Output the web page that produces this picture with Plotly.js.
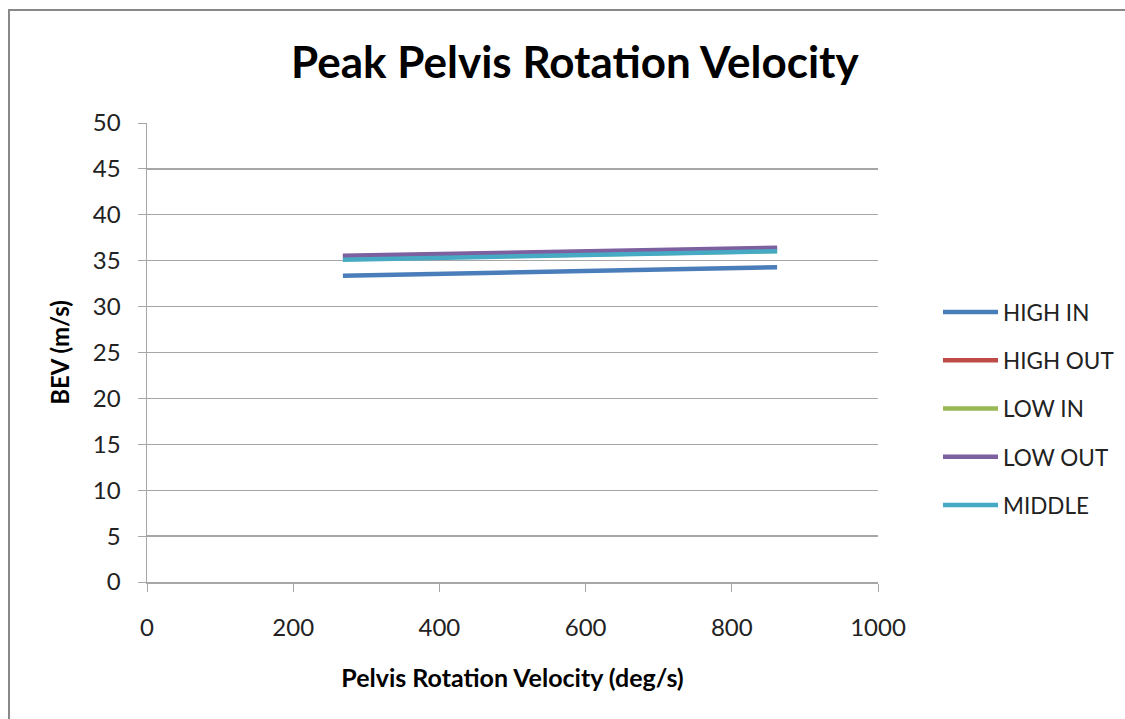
<!DOCTYPE html>
<html>
<head>
<meta charset="utf-8">
<script src="https://cdn.plot.ly/plotly-3.0.1.min.js"></script>
<style>
html,body{margin:0;padding:0;background:#fff;overflow:hidden;}
#chart{width:1125px;height:719px;position:relative;}
#frame{position:absolute;left:8px;top:9px;width:1300px;height:900px;border:2px solid #888;pointer-events:none;}
</style>
</head>
<body>
<div id="chart"></div>
<div id="frame"></div>
<script>
const seriesNames = ["HIGH IN", "HIGH OUT", "LOW IN", "LOW OUT", "MIDDLE"];
const seriesColors = ["#4a7ebb", "#be4b48", "#98b954", "#7d60a0", "#46aac5"];
const xValues = [268, 862];
const highIn = [33.35, 34.28];
const highOut = [35.45, 36.3];
const lowIn = [35.2, 36.05];
const lowOut = [35.55, 36.4];
const middle = [35.1, 36.03];
const yData = [highIn, highOut, lowIn, lowOut, middle];

const traces = seriesNames.map((name, i) => ({
  type: "scatter",
  mode: "lines",
  name: name,
  legendgroup: "g" + i,
  x: xValues,
  y: yData[i],
  line: {color: seriesColors[i], width: 4.5}
}));

const font = "Lato, 'Open Sans', sans-serif";
const plotW = 1125 - 147;          // width between left margin and right edge
const xDomainEnd = 731 / plotW;    // plot area ends at x=878
const layout = {
  width: 1125,
  height: 719,
  paper_bgcolor: "#fff",
  plot_bgcolor: "#fff",
  margin: {l: 147, r: 0, t: 123, b: 137},
  font: {family: font, color: "#222"},
  title: {
    text: "<b>Peak Pelvis Rotation Velocity</b>",
    font: {family: font, size: 44, color: "#000"},
    x: 0.511, xanchor: "center",
    y: 0.913, yanchor: "middle"
  },
  showlegend: true,
  legend: {
    x: (938 - 147) / plotW, xanchor: "left",
    y: 0.377, yanchor: "middle",
    font: {family: font, size: 22.5, color: "#222"},
    tracegroupgap: 16,
    itemwidth: 55,
    bgcolor: "rgba(0,0,0,0)"
  },
  xaxis: {
    domain: [0, xDomainEnd],
    range: [0, 1000],
    tickvals: [0, 200, 400, 600, 800, 1000],
    showgrid: false,
    zeroline: false,
    showline: true,
    linecolor: "#a6a6a6",
    linewidth: 1.5,
    ticks: "outside",
    ticklen: 8,
    tickcolor: "#a6a6a6",
    tickfont: {family: font, size: 24, color: "#222"},
    ticklabelstandoff: 16,
    title: {text: "<b>Pelvis Rotation Velocity (deg/s)</b>", font: {family: font, size: 25, color: "#000"}, standoff: 29}
  },
  yaxis: {
    range: [0, 50],
    tickvals: [0, 5, 10, 15, 20, 25, 30, 35, 40, 45, 50],
    showgrid: true,
    gridcolor: "#a6a6a6",
    gridwidth: 1.2,
    zeroline: false,
    showline: true,
    linecolor: "#a6a6a6",
    linewidth: 1.5,
    ticks: "outside",
    ticklen: 8,
    tickcolor: "#a6a6a6",
    tickfont: {family: font, size: 24, color: "#222"},
    ticklabelstandoff: 12,
    title: {text: "<b>BEV (m/s)</b>", font: {family: font, size: 24, color: "#000"}, standoff: 16}
  }
};

Plotly.newPlot("chart", traces, layout, {displayModeBar: false, staticPlot: true});
</script>
</body>
</html>
